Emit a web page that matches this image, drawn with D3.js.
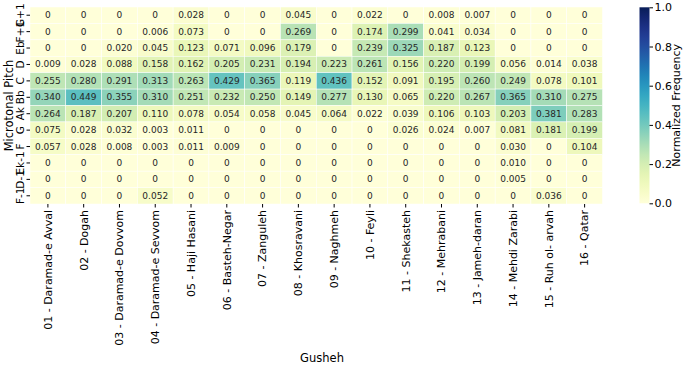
<!DOCTYPE html>
<html><head><meta charset="utf-8">
<script src="https://cdn.jsdelivr.net/npm/d3@7"></script>
<style>body{margin:0;background:#fff;} text{font-family:"DejaVu Sans",sans-serif;}</style>
</head><body>
<svg id="c" width="685" height="369"></svg>
<script>
const gushehs = ["01 - Daramad-e Avval","02 - Dogah","03 - Daramad-e Dovvom","04 - Daramad-e Sevvom","05 - Haji Hasani","06 - Basteh-Negar","07 - Zanguleh","08 - Khosravani","09 - Naghmeh","10 - Feyli","11 - Shekasteh","12 - Mehrabani","13 - Jameh-daran","14 - Mehdi Zarabi","15 - Ruh ol- arvah","16 - Qatar"];
const pitches = ["G+1","F+1","Eb","D","C","Bb","Ak","G","F","Ek-1","D-1","F-1"];
const rowG1  = [0,0,0,0,0.028,0,0,0.045,0,0.022,0,0.008,0.007,0,0,0];
const rowF1  = [0,0,0,0.006,0.073,0,0,0.269,0,0.174,0.299,0.041,0.034,0,0,0];
const rowEb  = [0,0,0.020,0.045,0.123,0.071,0.096,0.179,0,0.239,0.325,0.187,0.123,0,0,0];
const rowD   = [0.009,0.028,0.088,0.158,0.162,0.205,0.231,0.194,0.223,0.261,0.156,0.220,0.199,0.056,0.014,0.038];
const rowC   = [0.255,0.280,0.291,0.313,0.263,0.429,0.365,0.119,0.436,0.152,0.091,0.195,0.260,0.249,0.078,0.101];
const rowBb  = [0.340,0.449,0.355,0.310,0.251,0.232,0.250,0.149,0.277,0.130,0.065,0.220,0.267,0.365,0.310,0.275];
const rowAk  = [0.264,0.187,0.207,0.110,0.078,0.054,0.058,0.045,0.064,0.022,0.039,0.106,0.103,0.203,0.381,0.283];
const rowG   = [0.075,0.028,0.032,0.003,0.011,0,0,0,0,0,0.026,0.024,0.007,0.081,0.181,0.199];
const rowF   = [0.057,0.028,0.008,0.003,0.011,0.009,0,0,0,0,0,0,0,0.030,0,0.104];
const rowEk1 = [0,0,0,0,0,0,0,0,0,0,0,0,0,0.010,0,0];
const rowD1  = [0,0,0,0,0,0,0,0,0,0,0,0,0,0.005,0,0];
const rowF1b = [0,0,0,0.052,0,0,0,0,0,0,0,0,0,0,0.036,0];
const matrix = [rowG1,rowF1,rowEb,rowD,rowC,rowBb,rowAk,rowG,rowF,rowEk1,rowD1,rowF1b];
const cbTicks = [0,0.2,0.4,0.6,0.8,1.0];

const svg = d3.select("#c");
const L=30, R=602.5, T=7, B=204;
const x = d3.scaleBand().domain(gushehs).range([L,R]);
const y = d3.scaleBand().domain(pitches).range([T,B]);
const color = d3.scaleSequential(d3.interpolateYlGnBu).domain([0,1]);

const cells = [];
matrix.forEach((row,i)=>row.forEach((v,j)=>cells.push({p:pitches[i],g:gushehs[j],v})));

const g = svg.append("g");
g.selectAll("rect").data(cells).join("rect")
  .attr("x",d=>x(d.g)).attr("y",d=>y(d.p))
  .attr("width",x.bandwidth()).attr("height",y.bandwidth())
  .attr("fill",d=>color(d.v)).attr("stroke","#fff").attr("stroke-width",0.5);
g.selectAll("text").data(cells).join("text")
  .attr("x",d=>x(d.g)+x.bandwidth()/2).attr("y",d=>y(d.p)+y.bandwidth()/2)
  .attr("text-anchor","middle").attr("dominant-baseline","central")
  .attr("font-size",9).attr("fill","#262626")
  .text(d=>d.v===0?"0":d3.format(".3f")(d.v));

// x axis
const xa = svg.append("g").attr("transform",`translate(0,${B})`)
  .call(d3.axisBottom(x).tickSize(3.5).tickSizeOuter(0));
xa.select(".domain").remove();
xa.selectAll("text").attr("font-size",11).attr("fill","#000")
  .attr("transform","rotate(-90)").attr("text-anchor","end")
  .attr("x",-6).attr("y",0).attr("dy","0.35em");
// y axis
const ya = svg.append("g").attr("transform",`translate(${L},0)`)
  .call(d3.axisLeft(y).tickSize(3.5).tickSizeOuter(0));
ya.select(".domain").remove();
ya.selectAll(".tick text").attr("font-size",10.5).attr("fill","#000")
  .attr("text-anchor","middle")
  .attr("transform","rotate(-90)").attr("x",0).attr("y",-6).attr("dy","0");

svg.append("text").attr("x",322).attr("y",362).attr("text-anchor","middle")
  .attr("font-size",11.5).text("Gusheh");
svg.append("text").attr("transform",`translate(13,${(T+B)/2}) rotate(-90)`)
  .attr("text-anchor","middle").attr("font-size",11.5).text("Microtonal Pitch");

// colorbar
const cbX=639.5, cbW=10, cbT=7.3, cbB=203.3;
const defs = svg.append("defs");
const grad = defs.append("linearGradient").attr("id","cbg").attr("x1",0).attr("y1",1).attr("x2",0).attr("y2",0);
d3.range(0,1.0001,0.05).forEach(t=>grad.append("stop").attr("offset",t).attr("stop-color",color(t)));
svg.append("rect").attr("x",cbX).attr("y",cbT).attr("width",cbW).attr("height",cbB-cbT).attr("fill","url(#cbg)");
const cy = d3.scaleLinear().domain([0,1]).range([cbB,cbT]);
const ca = svg.append("g").attr("transform",`translate(${cbX+cbW},0)`)
  .call(d3.axisRight(cy).tickValues(cbTicks).tickFormat(d3.format(".1f")).tickSize(3.5));
ca.select(".domain").remove();
ca.selectAll("text").attr("font-size",11).attr("fill","#000").attr("x",5);
svg.append("text").attr("transform",`translate(680,${(cbT+cbB)/2}) rotate(-90)`)
  .attr("text-anchor","middle").attr("font-size",11).text("Normalized Frequency");
</script>
</body></html>
